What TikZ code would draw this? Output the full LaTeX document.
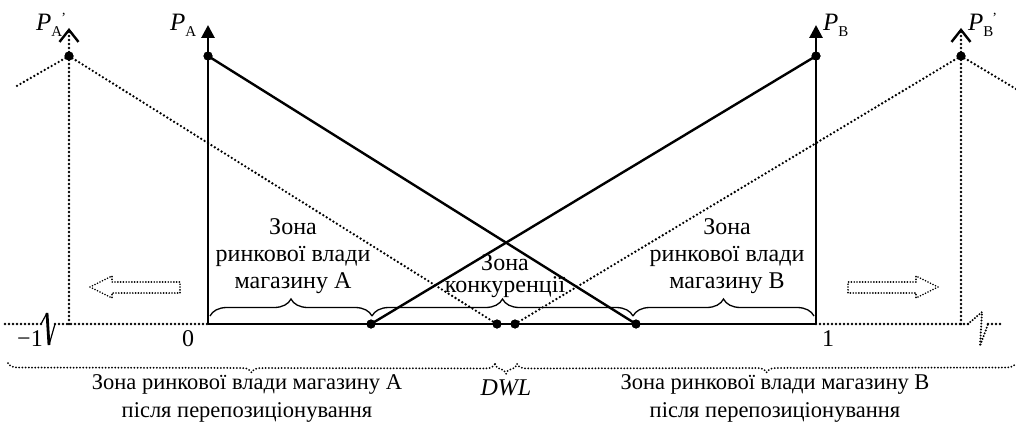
\documentclass[tikz,border=0pt]{standalone}
\usepackage{fontspec}
\setmainfont{Liberation Serif}
\usetikzlibrary{arrows.meta,decorations.pathreplacing}
\newcommand{\plab}[2]{{\fontsize{25}{25}\selectfont\textit{P}}\raisebox{-6pt}{\fontsize{15}{15}\selectfont #1}\kern-1pt\raisebox{8pt}{\fontsize{14}{14}\selectfont #2}}
\begin{document}
\begin{tikzpicture}[x=1pt,y=-1pt,
  solidline/.style={line width=2.4pt},
  axisline/.style={line width=2.8pt},
  dotline/.style={line width=2.6pt, dash pattern=on 0pt off 4pt, line cap=round},
  dotthin/.style={line width=2pt, dash pattern=on 0pt off 3.2pt, line cap=round},
  dot/.style={circle, fill=black, inner sep=0pt, minimum size=9pt},
  lbl/.style={font=\fontsize{24}{27}\selectfont, align=center, inner sep=0pt},
  lblc/.style={font=\fontsize{24}{22}\selectfont, align=center, inner sep=0pt},
  blbl/.style={font=\fontsize{22.5}{28}\selectfont, align=center, inner sep=0pt},
  topbrace/.style={line width=1.3pt, decorate, decoration={brace, amplitude=17pt}},
  botbrace/.style={dotthin, decorate, decoration={brace, mirror, amplitude=#1}},
  hollow/.style={line width=1.9pt, dash pattern=on 0pt off 2.8pt, line cap=round},
  barb/.style={-{Straight Barb[length=12pt, width=19pt, line width=2.4pt]}},
  tri/.style={-{Triangle[length=13pt, width=13pt]}}]
\useasboundingbox (0,0) rectangle (1016,425);

% coordinates
\coordinate (O) at (208,324);
\coordinate (One) at (816,324);
\coordinate (Atop) at (208,25);
\coordinate (Btop) at (816,25);
\coordinate (vA) at (69,324);
\coordinate (vAtop) at (69,28);
\coordinate (vB) at (961,324);
\coordinate (vBtop) at (961,28);
\coordinate (axL) at (5,324);
\coordinate (brL1) at (41,324);
\coordinate (brL2) at (47,313);
\coordinate (brL3) at (49,345);
\coordinate (brL4) at (55,324);
\coordinate (brR1) at (968,324);
\coordinate (brR2) at (982,312);
\coordinate (brR3) at (980,346);
\coordinate (brR4) at (988,324);
\coordinate (axR) at (1002,324);
\coordinate (lA) at (15,87);
\coordinate (rB) at (1016,89);

% dots
\node[dot] (dA) at (208,56) {};
\node[dot] (dB) at (816,56) {};
\node[dot] (xB) at (371,324) {};
\node[dot] (xA) at (636,324) {};
\node[dot] (dA2) at (69,56) {};
\node[dot] (dB2) at (961,56) {};
\node[dot] (yA) at (497,324) {};
\node[dot] (yB) at (515,324) {};

% axis
\draw[dotline] (axL) -- (brL1);
\draw[line width=1.2pt] (brL1) -- (brL2);
\draw[line width=2.8pt] (brL2) -- (brL3);
\draw[line width=1.2pt] (brL3) -- (brL4);
\draw[dotline] (brL4) -- (O);
\draw[axisline] (O) -- (One);
\draw[dotline] (One) -- (brR1);
\draw[line width=2.2pt, dash pattern=on 0pt off 3pt, line cap=round] (brR1) -- (brR2) -- (brR3) -- (brR4);
\draw[dotline] (brR4) -- (axR);

% vertical axes
\draw[axisline, tri] (O) -- (Atop);
\draw[axisline, tri] (One) -- (Btop);
\draw[dotline, barb] (vA) -- (vAtop);
\draw[dotline, barb] (vB) -- (vBtop);

% demand lines
\draw[solidline] (dA.center) -- (xA.center);
\draw[solidline] (dB.center) -- (xB.center);
\draw[dotline] (dA2.center) -- (yA.center);
\draw[dotline] (dA2.center) -- (lA);
\draw[dotline] (dB2.center) -- (yB.center);
\draw[dotline] (dB2.center) -- (rB);

% redraw dots on top
\foreach \n in {dA,dB,xB,xA,dA2,dB2,yA,yB} \fill (\n) circle (4.5pt);

% top braces
\coordinate (b0) at (210,316);
\coordinate (b1) at (372,316);
\coordinate (b2) at (633,316);
\coordinate (b3) at (814,316);
\draw[topbrace] (b0) -- (b1);
\draw[topbrace] (b1) -- (b2);
\draw[topbrace] (b2) -- (b3);

\node[lbl] (tA) at (293,256) {Зона\\ринкової влади\\магазину А};
\node[lblc] (tC) at (505,276) {Зона\\конкуренції};
\node[lbl] (tB) at (727,256) {Зона\\ринкової влади\\магазину В};

% hollow arrows
\draw[hollow] (90,287) -- (112,276) -- (112,282) -- (180,282) -- (180,293) -- (112,293) -- (112,298) -- cycle;
\draw[hollow] (938,287) -- (916,276) -- (916,282) -- (848,282) -- (848,293) -- (916,293) -- (916,298) -- cycle;

% numbers
\node[lbl] (nm1) at (30,339) {−1};
\node[lbl] (n0) at (188,339) {0};
\node[lbl] (n1) at (828,339) {1};

% P labels
\node[lbl, anchor=base west] (PA2) at (36,31) {\plab{A}{'}};
\node[lbl, anchor=base west] (PA) at (170,31) {\plab{A}{}};
\node[lbl, anchor=base west] (PB) at (823,31) {\plab{B}{}};
\node[lbl, anchor=base west] (PB2) at (968,31) {\plab{B}{'}};

% bottom braces
\coordinate (c0) at (8,363);
\coordinate (c1) at (495,364);
\coordinate (c2) at (517,364);
\coordinate (c3) at (1016,363);
\draw[botbrace=9pt] (c0) -- (c1);
\draw[botbrace=10pt] (c1) -- (c2);
\draw[botbrace=9pt] (c2) -- (c3);

\node[blbl] (bA) at (247,398) {Зона ринкової влади магазину А\\після перепозиціонування};
\node[lbl] (dwl) at (506,388) {\textit{DWL}};
\node[blbl] (bB) at (775,398) {Зона ринкової влади магазину В\\після перепозиціонування};
\end{tikzpicture}
\end{document}
